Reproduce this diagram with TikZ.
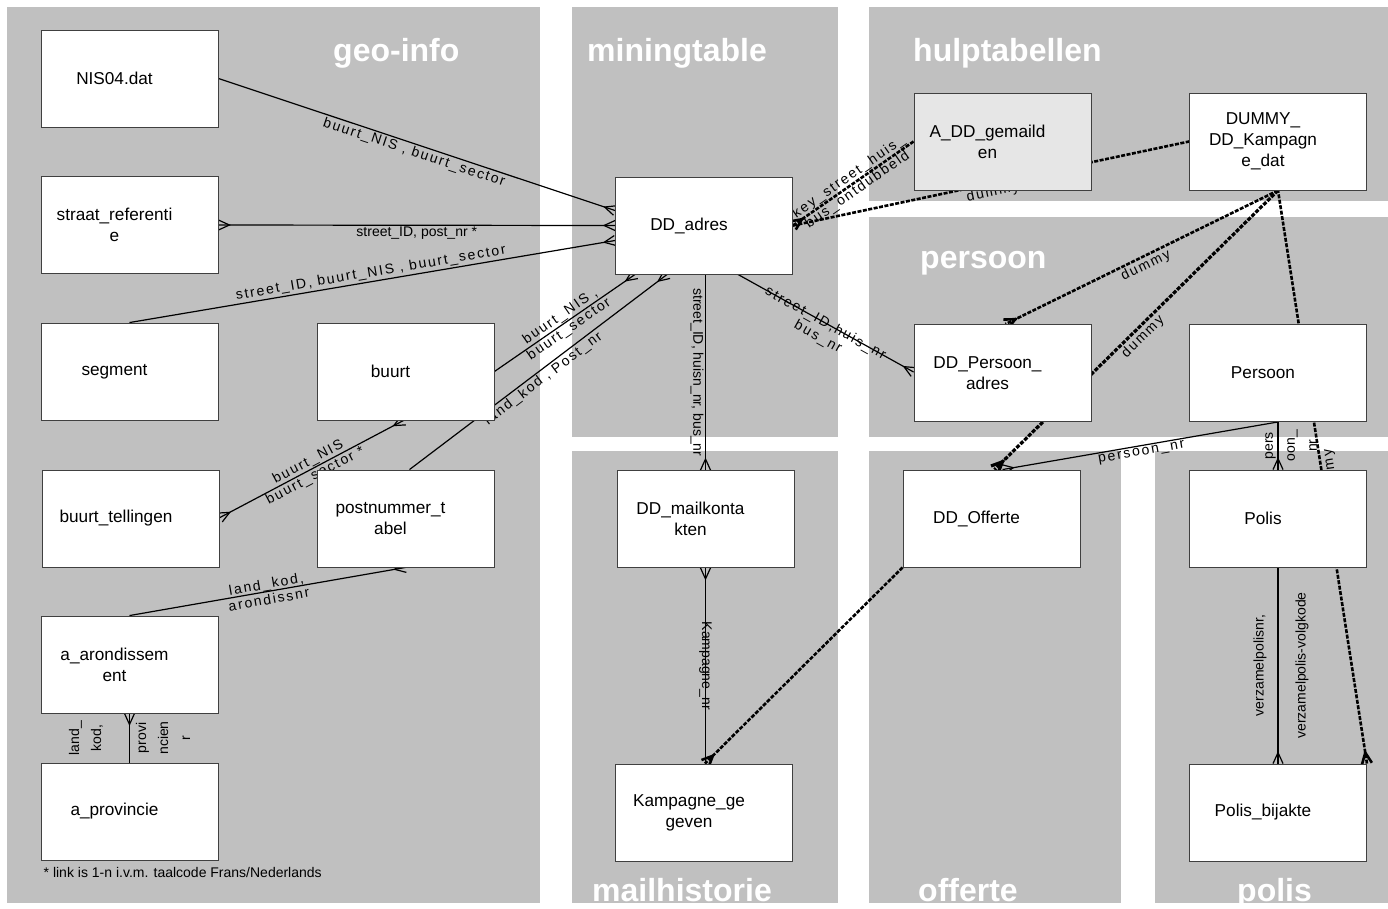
\documentclass[tikz,border=0pt]{standalone}
\usepackage{fontspec}
\setmainfont{Liberation Sans}
\usetikzlibrary{arrows.meta,calc}

\pgfdeclarelayer{panels}
\pgfdeclarelayer{links}
\pgfsetlayers{panels,links,main}

\definecolor{panelgray}{RGB}{192,192,192}
\definecolor{lightbox}{RGB}{230,230,230}

\newcommand\boxfont{\fontsize{17.2}{21}\selectfont}
\newcommand\labfont{\fontsize{14}{15.5}\selectfont}

% crow's foot for the "many" side of a relation
\pgfdeclarearrow{
  name = Crow,
  parameters = {\the\pgfarrowlength,\the\pgfarrowwidth},
  setup code = {
    \pgfarrowssettipend{0pt}
    \pgfarrowssetlineend{0pt}
    \pgfarrowssetbackend{-\pgfarrowlength}
    \pgfarrowshullpoint{0pt}{.5\pgfarrowwidth}
    \pgfarrowshullpoint{0pt}{-.5\pgfarrowwidth}
    \pgfarrowshullpoint{-\pgfarrowlength}{0pt}
    \pgfarrowssavethe\pgfarrowlength
    \pgfarrowssavethe\pgfarrowwidth
  },
  drawing code = {
    \pgfsetdash{}{0pt}
    \pgfpathmoveto{\pgfqpoint{0pt}{.5\pgfarrowwidth}}
    \pgfpathlineto{\pgfqpoint{-\pgfarrowlength}{0pt}}
    \pgfpathlineto{\pgfqpoint{0pt}{-.5\pgfarrowwidth}}
    \pgfusepathqstroke
  },
  defaults = {length = 11pt, width = 10pt}
}

\begin{document}
\begin{tikzpicture}[x=1pt,y=-1pt,
  tbl/.style={draw=black!75,line width=0.9pt,fill=white,minimum width=177pt,minimum height=97pt,
    inner sep=0pt,label={[xshift=-15pt,align=center,font=\boxfont]center:#1}},
  ttl/.style={text=white,font=\bfseries\fontsize{32}{36}\selectfont,anchor=base west,inner sep=0pt},
  rel/.style={draw,line width=1.2pt},
  dumrel/.style={draw,line width=2.6pt,dash pattern=on 4pt off 1.5pt},
  lab/.style={font=\labfont,inner sep=1.5pt},
  slab/.style={lab,sloped,font=\labfont\addfontfeature{LetterSpace=13}},
  vlab/.style={rotate=90,font=\fontsize{14}{22}\selectfont,inner sep=1pt}]
\useasboundingbox (0,0) rectangle (1388,908);

% areas
\begin{pgfonlayer}{panels}
\fill[panelgray] (7,7) rectangle (540,903);
\fill[panelgray] (572,7) rectangle (838,437);
\fill[panelgray] (572,451) rectangle (838,903);
\fill[panelgray] (869,7) rectangle (1388,201);
\fill[panelgray] (869,217) rectangle (1388,437);
\fill[panelgray] (869,451) rectangle (1121,903);
\fill[panelgray] (1155,451) rectangle (1388,903);
\end{pgfonlayer}

\node[ttl] (geo) at (333,61) {geo-info};
\node[ttl] (mining) at (587,61) {miningtable};
\node[ttl] (hulp) at (913,61) {hulptabellen};
\node[ttl] (pers) at (920,268) {persoon};
\node[ttl] (mailh) at (592,901) {mailhistorie};
\node[ttl] (offt) at (918,901) {offerte};
\node[ttl] (pol) at (1237,901) {polis};

% tables
\node[tbl={NIS04.dat}] (nis) at (129.5,78.5) {};
\node[tbl={straat\_referenti\\e}] (straat) at (129.5,225) {};
\node[tbl={segment}] (segment) at (129.5,371.5) {};
\node[tbl={buurt}] (buurt) at (405.5,371.5) {};
\node[tbl={buurt\_tellingen}] (tellingen) at (131,518.5) {};
\node[tbl={postnummer\_t\\abel}] (postnummer) at (405.5,518.5) {};
\node[tbl={a\_arondissem\\ent}] (arond) at (129.5,664.5) {};
\node[tbl={a\_provincie}] (prov) at (129.5,811.5) {};
\node[tbl={DD\_adres}] (adres) at (704,225.5) {};
\node[tbl={DD\_mailkonta\\kten}] (mail) at (705.5,519) {};
\node[tbl={Kampagne\_ge\\geven}] (kamp) at (704,812.5) {};
\node[tbl={A\_DD\_gemaild\\en},fill=lightbox] (gemaild) at (1002.5,141.5) {};
\node[tbl={DUMMY\_\\DD\_Kampagn\\e\_dat}] (dummy) at (1278,141.5) {};
\node[tbl={DD\_Persoon\_\\adres}] (padres) at (1002.5,373) {};
\node[tbl={Persoon}] (persoon) at (1278,373) {};
\node[tbl={DD\_Offerte}] (offerte) at (991.5,518.5) {};
\node[tbl={Polis}] (polis) at (1278,518.5) {};
\node[tbl={Polis\_bijakte}] (bijakte) at (1278,812.5) {};

\node[lab,anchor=base west] (note) at (42,877) {* link is 1-n i.v.m. taalcode Frans/Nederlands};

% relations
\begin{pgfonlayer}{links}
\draw[rel,-{Crow}] (nis.east) -- ($(adres.west)+(0,-15)$)
  node[slab,midway,below] {buurt\_NIS , buurt\_sector};
\draw[rel,{Crow}-{Crow}] (straat.east) -- (adres.west)
  node[lab,midway,below] {street\_ID, post\_nr *};
\draw[rel,-{Crow}] (segment.north) -- ($(adres.west)+(0,15)$)
  node[slab,midway,above] {street\_ID, buurt\_NIS , buurt\_sector};
\draw[rel,-{Crow}] (buurt.east) -- ($(adres.south west)+(20,0)$)
  node[slab,midway,align=center] {buurt\_NIS ,\\buurt\_sector};
\draw[rel,-{Crow}] ($(postnummer.north)+(4,0)$) -- ($(adres.south west)+(52,0)$)
  node[slab,midway,below] {land\_kod , Post\_nr};
\draw[rel,-{Crow}] (mail.north |- adres.south) -- (mail.north)
  node[lab,midway,rotate=-90,anchor=north] {street\_ID, huisn\_nr, bus\_nr};
\draw[rel,{Crow}-] (mail.south) -- (mail.south |- kamp.north)
  node[lab,midway,rotate=-90] {Kampagne\_nr};
\draw[dumrel,-{Crow}] (offerte.south west) -- ($(kamp.north)+(1,0)$);
\draw[dumrel,{Crow}-] (adres.east) -- (gemaild.west)
  node[slab,midway,align=center] {key\_street\_huis\_\\bus\_ontdubbeld};
\draw[dumrel] (adres.east) -- (dummy.west)
  node[slab,midway,below] {dummy};
\draw[dumrel,-{Crow}] (dummy.south) -- ($(padres.north)+(3,0)$)
  node[slab,midway,below] {dummy};
\draw[dumrel,line width=3.2pt,-{Crow}] (dummy.south) -- ($(offerte.north)+(3,0)$)
  node[slab,midway,below] {dummy};
\draw[rel,-{Crow}] (persoon.south) -- ($(offerte.north)+(11,0)$)
  node[slab,midway,below] {persoon\_nr};
\draw[rel,-{Crow}] (persoon.south) -- (polis.north)
  node[vlab,midway,yshift=-13pt,align=center] {pers\\oon\_\\nr};
\draw[rel,-{Crow}] (polis.south) -- (bijakte.north)
  node[vlab,midway,yshift=-3pt,align=center] {verzamelpolisnr,\\[20pt]verzamelpolis-volgkode};
\draw[dumrel,{Crow}-] (bijakte.north east) -- (dummy.south)
  node[slab,midway,below,allow upside down] {dummy};
\draw[rel,-{Crow}] ($(adres.south east)+(-55,0)$) -- ($(padres.west)+(0,-1)$)
  node[slab,midway,below=-8pt,align=center] {street\_ID,huis\_nr\\bus\_nr};
\draw[rel,{Crow}-{Crow}] ($(tellingen.east)+(0,-1)$) -- ($(buurt.south)+(-2,0)$)
  node[slab,midway,align=center] {buurt\_NIS\\buurt\_sector *};
\draw[rel,-{Crow}] (arond.north) -- (postnummer.south)
  node[slab,midway,align=center] {land\_kod,\\arondissnr};
\draw[rel,{Crow}-] (arond.south) -- (prov.north)
  node[vlab,midway,align=center] {land\_\\kod,\\[23pt]provi\\ncien\\r};
\end{pgfonlayer}
\end{tikzpicture}
\end{document}
